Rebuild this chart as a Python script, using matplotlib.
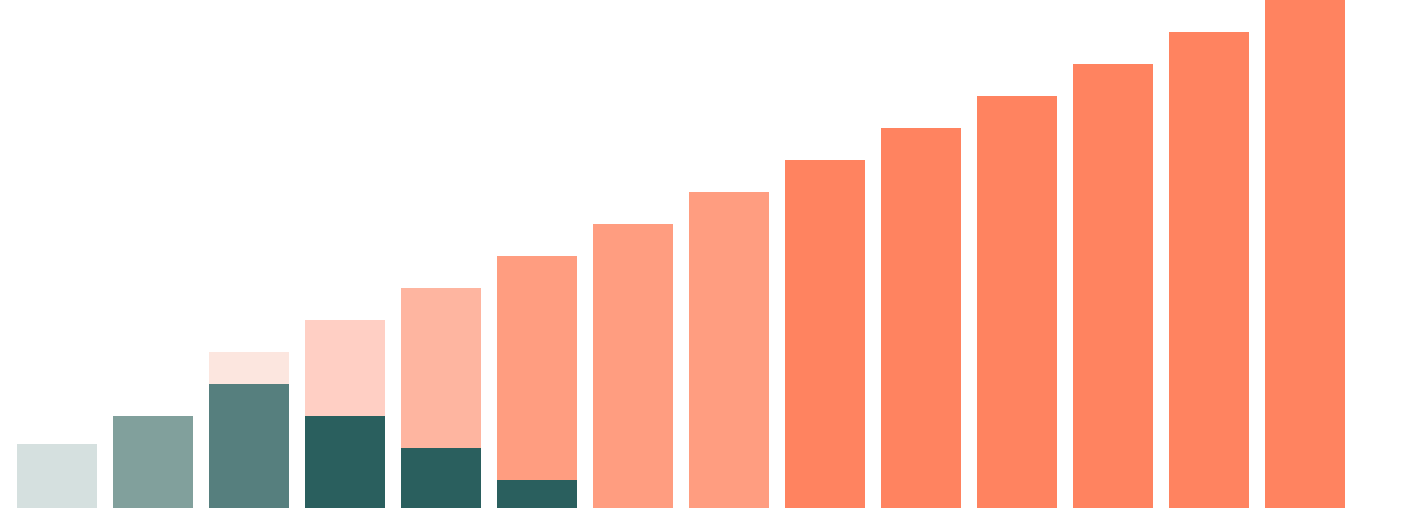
import numpy as np
import matplotlib
matplotlib.use("Agg")
import matplotlib.pyplot as plt

# ── Data (pixel-scale values) ────────────────────────────────────────────────
positions = list(range(14))
orange_vals = [0, 0, 156, 188, 220, 252, 284, 316, 348, 380, 412, 444, 476, 508]
orange_cols = ["#ffffff", "#ffffff", "#fce6df", "#ffcfc4", "#feb5a0",
               "#ff9d80", "#ff9d80", "#ff9d80", "#ff8360", "#ff8360",
               "#ff8360", "#ff8360", "#ff8360", "#ff8360"]
teal_vals = [64, 92, 124, 92, 60, 28, 0, 0, 0, 0, 0, 0, 0, 0]
teal_cols = ["#d5e0df", "#81a09c", "#567f7e", "#2a5f5e", "#2a5f5e", "#2a5f5e",
             "#2a5f5e", "#2a5f5e", "#2a5f5e", "#2a5f5e", "#2a5f5e", "#2a5f5e",
             "#2a5f5e", "#2a5f5e"]

BAR_W = 80 / 96

fig = plt.figure(figsize=(14.07, 5.08), dpi=100)
ax = fig.add_axes([0, 0, 1, 1])

ax.bar(positions, orange_vals, width=BAR_W, color=orange_cols, linewidth=0)
ax.bar(positions, teal_vals, width=BAR_W, color=teal_cols, linewidth=0)

ax.set_xlim(-57 / 96, (1407 - 57) / 96)
ax.set_ylim(0, 508)
ax.axis("off")

fig.savefig("out.png", dpi=100)
